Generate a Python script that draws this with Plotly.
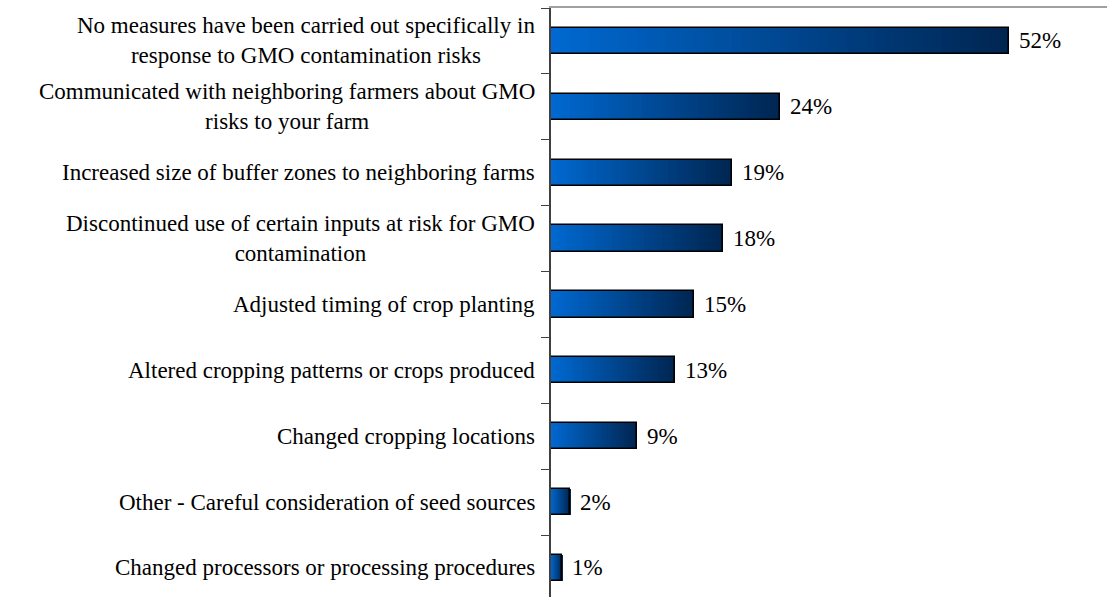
import plotly.graph_objects as go

categories = [
    "No measures have been carried out specifically in<br>response to GMO contamination risks",
    "Communicated with neighboring farmers about GMO<br>risks to your farm",
    "Increased size of buffer zones to neighboring farms",
    "Discontinued use of certain inputs at risk for GMO<br>contamination",
    "Adjusted timing of crop planting",
    "Altered cropping patterns or crops produced",
    "Changed cropping locations",
    "Other - Careful consideration of seed sources",
    "Changed processors or processing procedures",
]
bar_lengths = [48, 24, 19, 18, 15, 13, 9, 2, 1.2]
value_labels = ["52%", "24%", "19%", "18%", "15%", "13%", "9%", "2%", "1%"]

positions = list(range(len(categories)))
c_left = (0, 104, 208)
c_right = (0, 38, 82)
N = 48

fig = go.Figure()
for k in range(N):
    t = k / (N - 1)
    col = "rgb(%d,%d,%d)" % tuple(round(a + (b - a) * t) for a, b in zip(c_left, c_right))
    fig.add_trace(go.Bar(
        y=positions,
        x=[v / N * 1.02 for v in bar_lengths],
        base=[v * k / N for v in bar_lengths],
        orientation="h", width=0.4,
        marker=dict(color=col, line=dict(width=0)),
        hoverinfo="skip", showlegend=False,
    ))
fig.add_trace(go.Bar(
    y=positions, x=bar_lengths, base=[0] * len(bar_lengths),
    orientation="h", width=0.4,
    marker=dict(color="rgba(0,0,0,0)", line=dict(color="#000000", width=1.6)),
    showlegend=False,
))

annotations = []
for i, cat in enumerate(categories):
    annotations.append(dict(
        x=0, xref="paper", y=positions[i], yref="y", text=cat,
        xanchor="right", yanchor="middle", align="center", xshift=-14,
        showarrow=False, font=dict(family="Liberation Serif", size=23, color="#000"),
    ))
    annotations.append(dict(
        x=bar_lengths[i], xref="x", y=positions[i], yref="y", text=value_labels[i],
        xanchor="left", yanchor="middle", xshift=8,
        showarrow=False, font=dict(family="Liberation Serif", size=23, color="#000"),
    ))

fig.update_layout(
    width=1107, height=597,
    margin=dict(l=551, r=0, t=8, b=0),
    barmode="overlay", bargap=0,
    plot_bgcolor="white", paper_bgcolor="white",
    annotations=annotations,
    xaxis=dict(range=[0, 58.3], side="top", showline=True, linecolor="#a0a0a0", linewidth=1.5,
               showgrid=False, zeroline=False, showticklabels=False, ticks=""),
    yaxis=dict(range=[8.441, -0.5], showline=True, linecolor="#404040", linewidth=1.5,
               showgrid=False, zeroline=False, showticklabels=False,
               tickmode="array", tickvals=[p - 0.5 for p in positions] + [8.5],
               ticks="outside", ticklen=8, tickcolor="#404040", tickwidth=1),
)
fig.write_html("out.html",
               config={"displayModeBar": False},
               post_script="document.body.style.margin='0px';document.body.style.overflow='hidden';")
